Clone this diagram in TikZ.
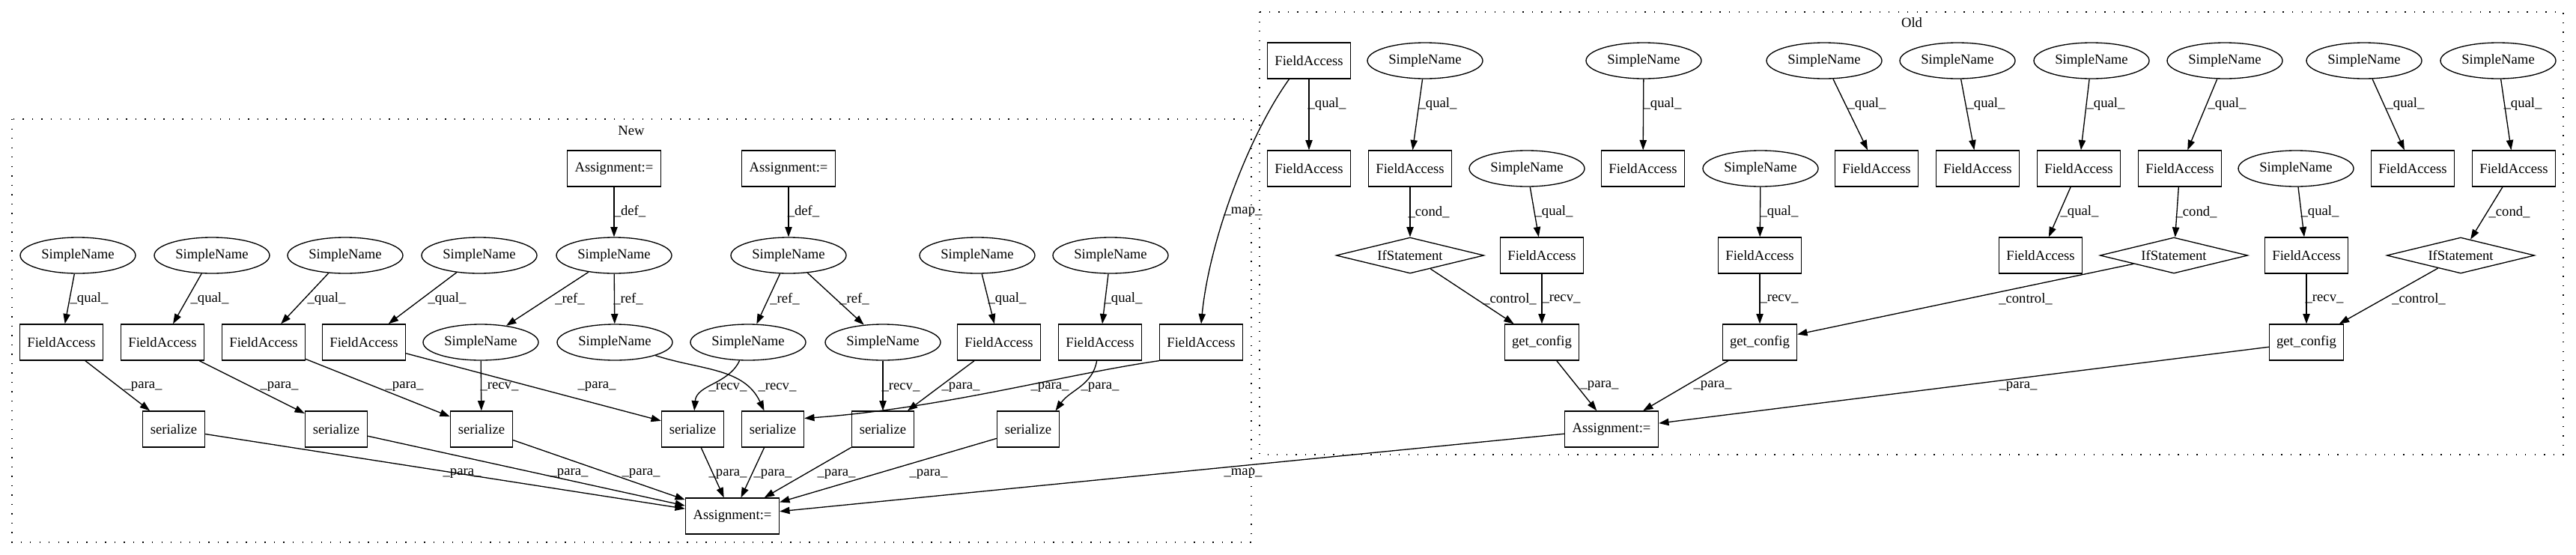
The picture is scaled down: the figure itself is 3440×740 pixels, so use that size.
\documentclass[tikz,border=0pt]{standalone}
\usepackage{fontspec}
\setmainfont{Liberation Serif}
\usetikzlibrary{shapes.geometric,arrows.meta}
\begin{document}
\begin{tikzpicture}[x=0.75pt,y=-0.75pt,
  every node/.style={font=\fontsize{14pt}{16pt}\selectfont},
  nb/.style={draw,rectangle,line width=1pt,inner sep=0pt,minimum height=36pt,minimum width=#1},
  fa/.style={nb=83.25pt}, asg/.style={nb=93.75pt}, ser/.style={nb=62.25pt}, gc/.style={nb=74.25pt},
  sn/.style={draw,ellipse,line width=1pt,inner sep=0pt,minimum width=115.5pt,minimum height=36pt},
  ifs/.style={draw,diamond,line width=1pt,inner sep=0pt,shape aspect=4,minimum width=148pt,minimum height=36pt},
  arr/.style={line width=1pt,-{Triangle[length=10pt,width=7pt]}},
  lbl/.style={inner sep=0pt},
  clu/.style={line width=1pt,dash pattern=on 1pt off 8.4pt}]
\useasboundingbox (0,0) rectangle (3440,740);
% clusters
\draw[clu] (16,159) rectangle (1671,724);
\draw[clu] (1682,16) rectangle (3423,607);
\node[lbl] (tNew) at (843,174) {New};
\node[lbl] (tOld) at (2553,30) {Old};
% ---------------- New ----------------
\node[asg] (A1) at (820,225) {Assignment:=};
\node[asg] (A2) at (1053,225) {Assignment:=};
\node[sn] (S1) at (104,341) {SimpleName};
\node[sn] (S2) at (283,341) {SimpleName};
\node[sn] (S3) at (461,341) {SimpleName};
\node[sn] (S4) at (640,341) {SimpleName};
\node[sn] (S5) at (820,341) {SimpleName};
\node[sn] (S8) at (1053,341) {SimpleName};
\node[sn] (S9) at (1305,341) {SimpleName};
\node[sn] (S10) at (1483,341) {SimpleName};
\node[fa] (F1) at (82,457) {FieldAccess};
\node[fa] (F2) at (217,457) {FieldAccess};
\node[fa] (F3) at (352,457) {FieldAccess};
\node[fa] (F4) at (486,457) {FieldAccess};
\node[sn] (S6) at (642,457) {SimpleName};
\node[sn] (S7) at (821,457) {SimpleName};
\node[sn] (S11) at (999,457) {SimpleName};
\node[sn] (S12) at (1179,457) {SimpleName};
\node[fa] (F5) at (1334,457) {FieldAccess};
\node[fa] (F6) at (1469,457) {FieldAccess};
\node[fa] (F7) at (1604,457) {FieldAccess};
\node[ser] (Z1) at (232,573) {serialize};
\node[ser] (Z2) at (449,573) {serialize};
\node[ser] (Z3) at (643,573) {serialize};
\node[ser] (Z4) at (925,573) {serialize};
\node[ser] (Z5) at (1032,573) {serialize};
\node[ser] (Z6) at (1179,573) {serialize};
\node[ser] (Z7) at (1373,573) {serialize};
\node[asg] (B) at (978,689) {Assignment:=};
% ---------------- Old ----------------
\node[fa] (OF1) at (1748,81) {FieldAccess};
\node[sn] (OS1) at (1903,81) {SimpleName};
\node[sn] (OS2) at (2195,81) {SimpleName};
\node[sn] (OS3) at (2436,81) {SimpleName};
\node[sn] (OS6) at (2614,81) {SimpleName};
\node[sn] (OS7) at (2793,81) {SimpleName};
\node[sn] (OS8) at (2971,81) {SimpleName};
\node[sn] (OS9) at (3157,81) {SimpleName};
\node[sn] (OS10) at (3336,81) {SimpleName};
\node[fa] (OF2) at (1748,225) {FieldAccess};
\node[fa] (OF3) at (1883,225) {FieldAccess};
\node[sn] (OS4) at (2039,225) {SimpleName};
\node[fa] (OF4) at (2194,225) {FieldAccess};
\node[sn] (OS5) at (2351,225) {SimpleName};
\node[fa] (OF5) at (2506,225) {FieldAccess};
\node[fa] (OF8) at (2641,225) {FieldAccess};
\node[fa] (OF9) at (2776,225) {FieldAccess};
\node[fa] (OF10) at (2911,225) {FieldAccess};
\node[sn] (OS11) at (3066,225) {SimpleName};
\node[fa] (OF11) at (3222,225) {FieldAccess};
\node[fa] (OF12) at (3357,225) {FieldAccess};
\node[ifs] (OI1) at (1883,341) {IfStatement};
\node[fa] (OF6) at (2059,341) {FieldAccess};
\node[fa] (OF7) at (2350,341) {FieldAccess};
\node[fa] (OF13) at (2725,341) {FieldAccess};
\node[ifs] (OI2) at (2903,341) {IfStatement};
\node[fa] (OF14) at (3080,341) {FieldAccess};
\node[ifs] (OI3) at (3286,341) {IfStatement};
\node[gc] (OG1) at (2059,457) {get\_config};
\node[gc] (OG2) at (2350,457) {get\_config};
\node[gc] (OG3) at (3080,457) {get\_config};
\node[asg] (OA) at (2152,573) {Assignment:=};
% ---------------- New edges ----------------
\draw[arr] (A1) -- (S5);
\draw[arr] (A2) -- (S8);
\draw[arr] (S1) -- (F1);
\draw[arr] (S2) -- (F2);
\draw[arr] (S3) -- (F3);
\draw[arr] (S4) -- (F4);
\draw[arr] (S5) -- (S6);
\draw[arr] (S5) -- (S7);
\draw[arr] (S8) -- (S11);
\draw[arr] (S8) -- (S12);
\draw[arr] (S9) -- (F5);
\draw[arr] (S10) -- (F6);
\draw[arr] (F1) -- (Z1);
\draw[arr] (F2) -- (Z2);
\draw[arr] (F3) -- (Z3);
\draw[arr] (F4) -- (Z4);
\draw[arr] (S6) -- (Z3);
\draw[arr] (S11) to[out=-115,in=85] (Z4);
\draw[arr] (S7) to[out=-18,in=115] (Z5);
\draw[arr] (S12) -- (Z6);
\draw[arr] (F5) -- (Z6);
\draw[arr] (F7.south west) .. controls (1420,500) and (1260,545) .. (Z5.19);
\draw[arr] (F6.-100) to[out=-100,in=55] (Z7.34);
\draw[arr] (Z1) -- (B);
\draw[arr] (Z2) -- (B);
\draw[arr] (Z3) -- (B);
\draw[arr] (Z4) -- (B);
\draw[arr] (Z5) -- (B);
\draw[arr] (Z6) -- (B);
\draw[arr] (Z7) -- (B);
% ---------------- Old edges ----------------
\draw[arr] (OF1) -- (OF2);
\draw[arr] (OF1.-137) .. controls (1668,180) and (1615,320) .. (F7.north);
\draw[arr] (OS1) -- (OF3);
\draw[arr] (OF3) -- (OI1);
\draw[arr] (OI1) -- (OG1);
\draw[arr] (OS4) -- (OF6);
\draw[arr] (OF6) -- (OG1);
\draw[arr] (OS2) -- (OF4);
\draw[arr] (OS5) -- (OF7);
\draw[arr] (OF7) -- (OG2);
\draw[arr] (OS3) -- (OF5);
\draw[arr] (OG1) -- (OA);
\draw[arr] (OG2) -- (OA);
\draw[arr] (OG3) -- (OA);
\draw[arr] (OI2) -- (OG2);
\draw[arr] (OS6) -- (OF8);
\draw[arr] (OS7) -- (OF9);
\draw[arr] (OF9) -- (OF13);
\draw[arr] (OS8) -- (OF10);
\draw[arr] (OF10) -- (OI2);
\draw[arr] (OS11) -- (OF14);
\draw[arr] (OF14) -- (OG3);
\draw[arr] (OI3) -- (OG3);
\draw[arr] (OS9) -- (OF11);
\draw[arr] (OS10) -- (OF12);
\draw[arr] (OF12) -- (OI3);
\draw[arr] (OA) -- (B);
% ---------------- labels New ----------------
\node[lbl] (l1) at (841,282) {\_def\_};
\node[lbl] (l2) at (1073,282) {\_def\_};
\node[lbl] (l3) at (119,399) {\_qual\_};
\node[lbl] (l4) at (280,399) {\_qual\_};
\node[lbl] (l5) at (436,399) {\_qual\_};
\node[lbl] (l6) at (597,399) {\_qual\_};
\node[lbl] (l7) at (761,399) {\_ref\_};
\node[lbl] (l8) at (839,399) {\_ref\_};
\node[lbl] (l9) at (1048,399) {\_ref\_};
\node[lbl] (l10) at (1141,399) {\_ref\_};
\node[lbl] (l11) at (1345,399) {\_qual\_};
\node[lbl] (l12) at (1500,399) {\_qual\_};
\node[lbl] (l13) at (1660,283) {\_map\_};
\node[lbl] (l14) at (191,516) {\_para\_};
\node[lbl] (l15) at (373,516) {\_para\_};
\node[lbl] (l16) at (540,516) {\_para\_};
\node[lbl] (l17) at (797,516) {\_para\_};
\node[lbl] (l18) at (667,516) {\_recv\_};
\node[lbl] (l19) at (972,517) {\_recv\_};
\node[lbl] (l20) at (1038,517) {\_recv\_};
\node[lbl] (l21) at (1203,517) {\_recv\_};
\node[lbl] (l22) at (1283,517) {\_para\_};
\node[lbl] (l23) at (1402,517) {\_para\_};
\node[lbl] (l24) at (1469,517) {\_para\_};
\node[lbl] (l25) at (617,632) {\_para\_};
\node[lbl] (l26) at (760,632) {\_para\_};
\node[lbl] (l27) at (856,632) {\_para\_};
\node[lbl] (l28) at (972,633) {\_para\_};
\node[lbl] (l29) at (1032,633) {\_para\_};
\node[lbl] (l30) at (1117,633) {\_para\_};
\node[lbl] (l31) at (1240,633) {\_para\_};
\node[lbl] (l32) at (1660,632) {\_map\_};
% ---------------- labels Old ----------------
\node[lbl] (m1) at (1772,139) {\_qual\_};
\node[lbl] (m2) at (1920,139) {\_qual\_};
\node[lbl] (m3) at (2220,139) {\_qual\_};
\node[lbl] (m4) at (2493,139) {\_qual\_};
\node[lbl] (m5) at (2652,139) {\_qual\_};
\node[lbl] (m6) at (2812,139) {\_qual\_};
\node[lbl] (m7) at (2974,139) {\_qual\_};
\node[lbl] (m8) at (3212,139) {\_qual\_};
\node[lbl] (m9) at (3369,139) {\_qual\_};
\node[lbl] (m10) at (1908,283) {\_cond\_};
\node[lbl] (m11) at (2075,283) {\_qual\_};
\node[lbl] (m12) at (2376,283) {\_qual\_};
\node[lbl] (m13) at (2777,283) {\_qual\_};
\node[lbl] (m14) at (2933,283) {\_cond\_};
\node[lbl] (m15) at (3098,283) {\_qual\_};
\node[lbl] (m16) at (3351,283) {\_cond\_};
\node[lbl] (m17) at (2016,399) {\_control\_};
\node[lbl] (m18) at (2085,399) {\_recv\_};
\node[lbl] (m19) at (2376,399) {\_recv\_};
\node[lbl] (m20) at (2705,399) {\_control\_};
\node[lbl] (m21) at (3104,399) {\_recv\_};
\node[lbl] (m22) at (3230,399) {\_control\_};
\node[lbl] (m23) at (2136,515) {\_para\_};
\node[lbl] (m24) at (2287,515) {\_para\_};
\node[lbl] (m25) at (2695,516) {\_para\_};
\end{tikzpicture}
\end{document}
